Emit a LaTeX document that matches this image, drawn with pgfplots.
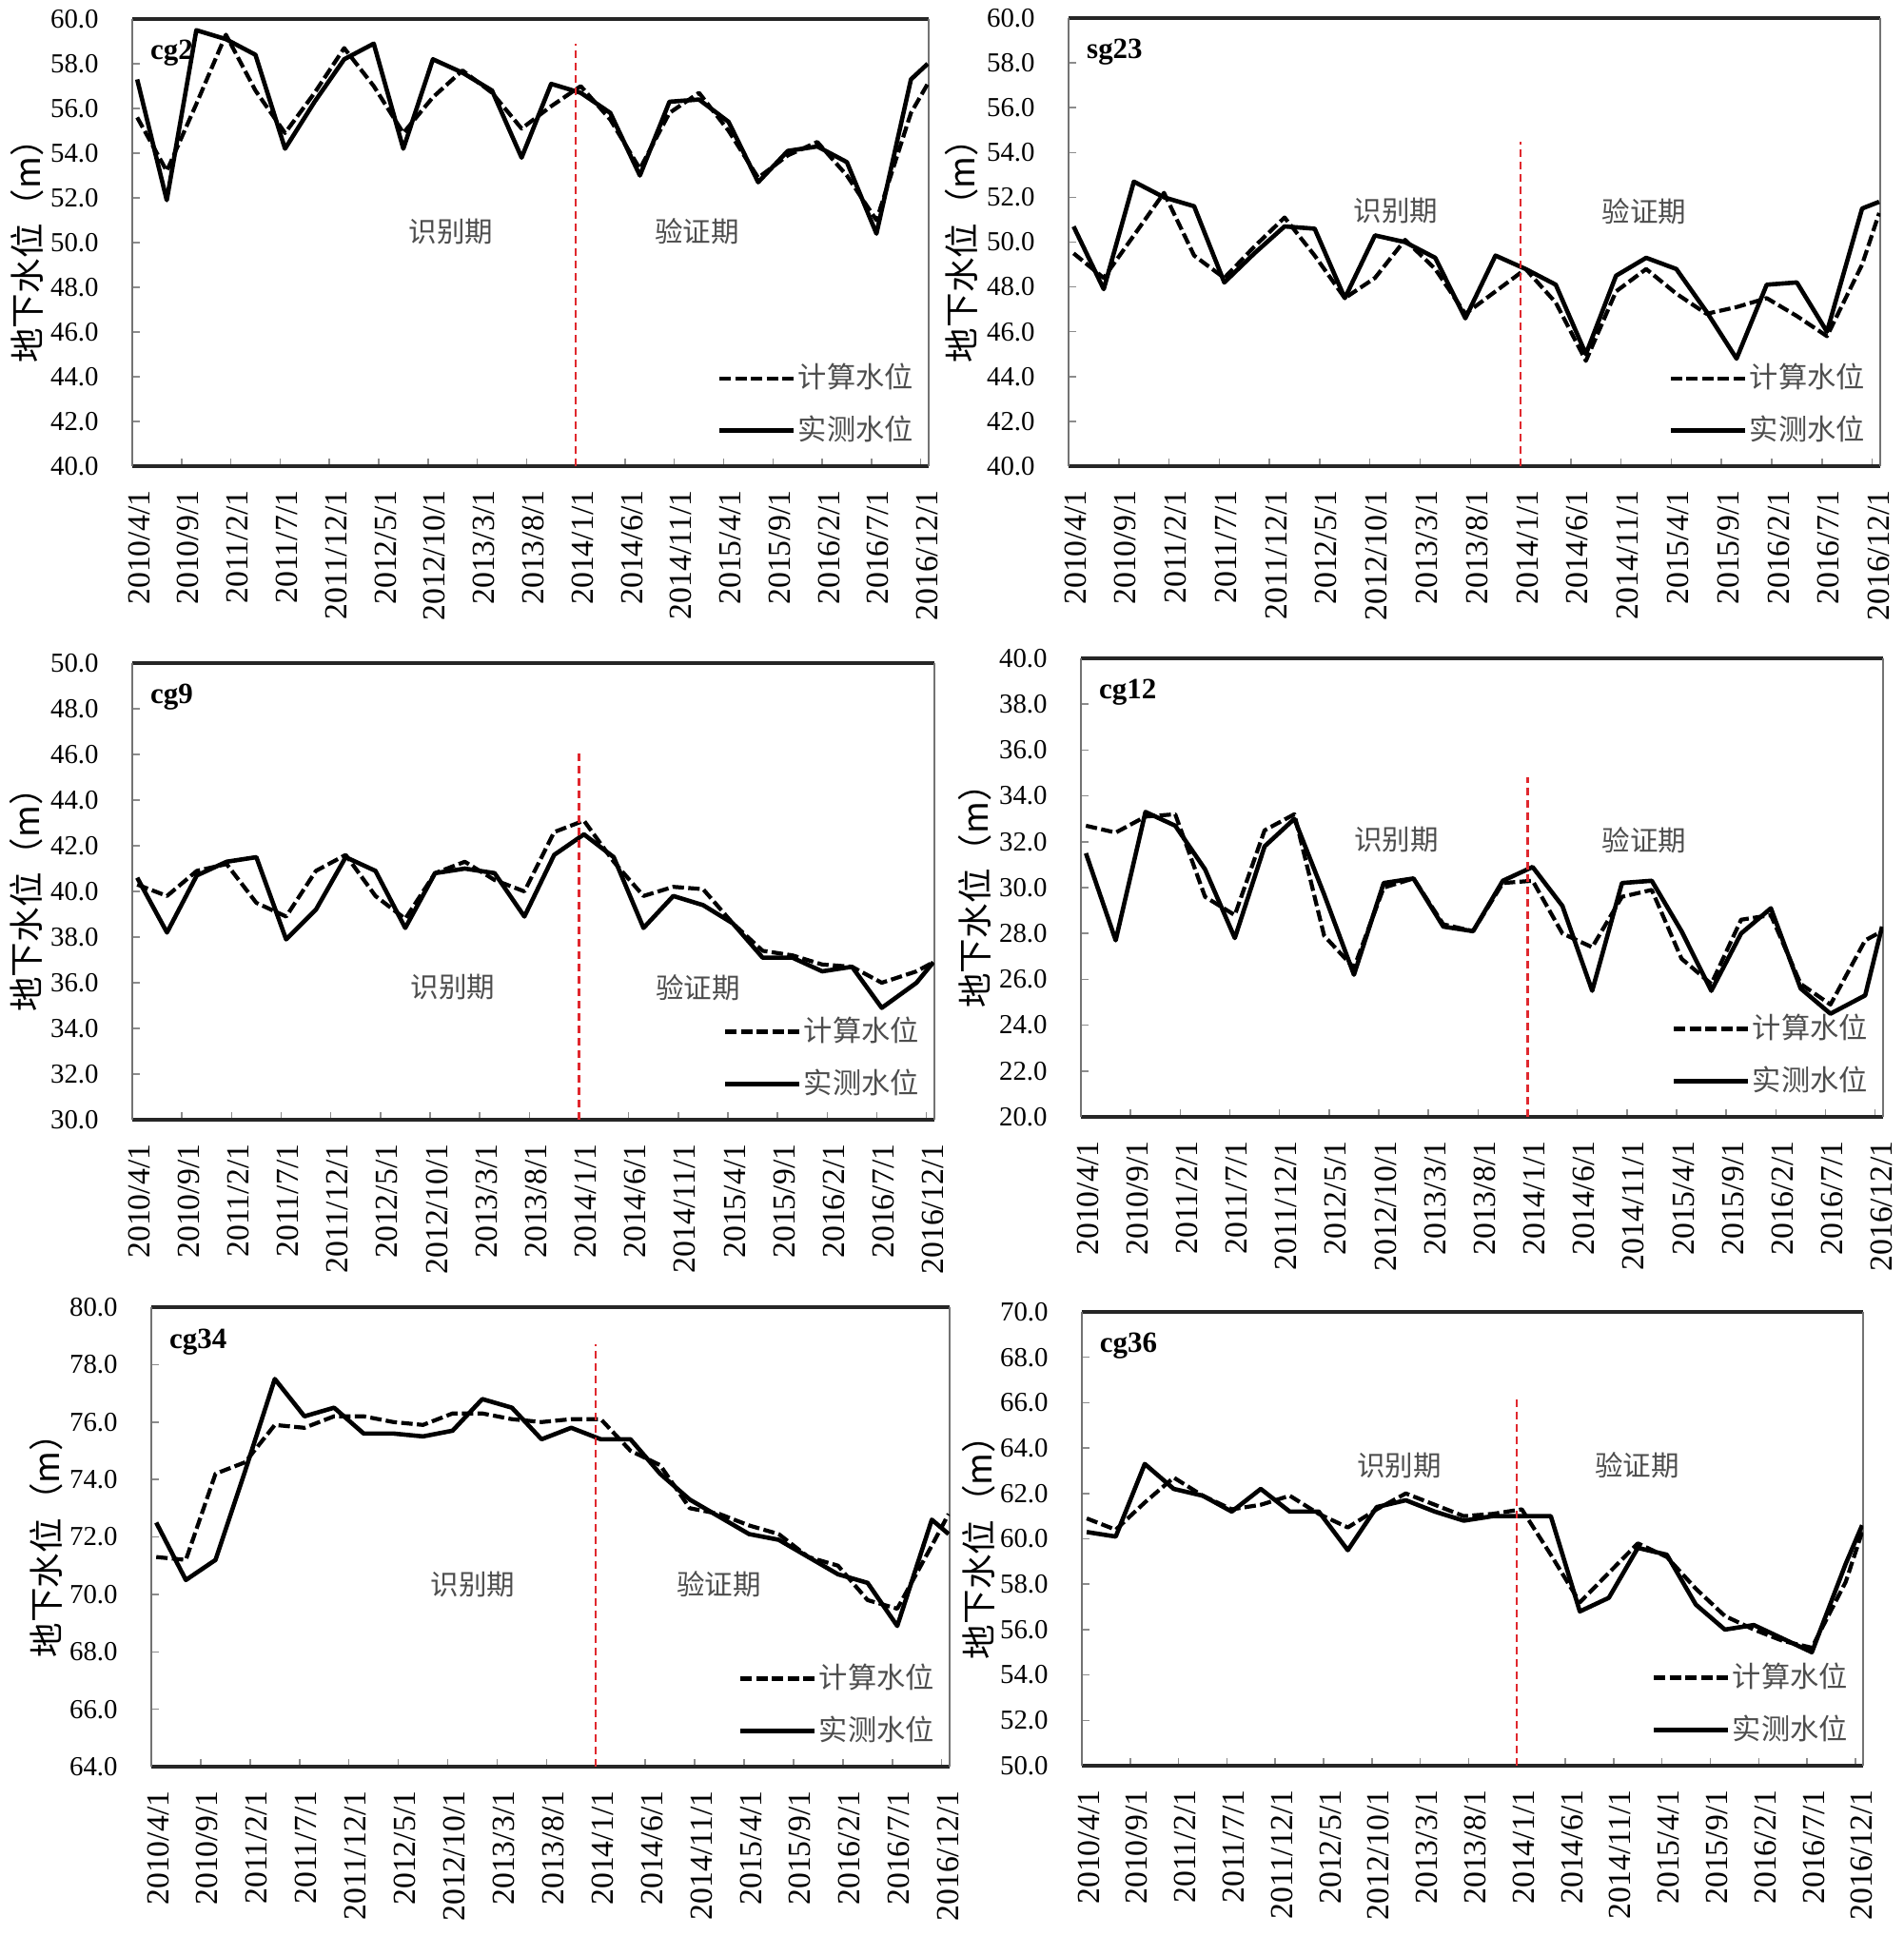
\documentclass[border=0pt]{standalone}
\usepackage{fontspec}
\setmainfont{Liberation Serif}
\newfontfamily\cjk{Noto Sans CJK SC}
\usepackage{pgfplots}
\usepackage{pgfplotstable}
\pgfplotsset{compat=1.18}

\definecolor{legtext}{HTML}{4D4D4D}
\definecolor{redline}{HTML}{E0282E}

% x: months after 2010/4/1; calc = 计算水位, obs = 实测水位
\pgfplotstableread{
x calc obs
0.5 55.6 57.3
3.5 53.2 51.9
6.5 56.2 59.5
9.5 59.3 59.1
12.5 56.8 58.4
15.5 54.9 54.2
18.5 56.7 56.3
21.5 58.7 58.2
24.5 57.0 58.9
27.5 54.9 54.2
30.5 56.5 58.2
33.5 57.7 57.6
36.5 56.7 56.8
39.5 55.1 53.8
42.5 56.1 57.1
45.5 57.0 56.7
48.5 55.5 55.8
51.5 53.3 53.0
54.5 55.8 56.3
57.5 56.7 56.4
60.5 55.0 55.4
63.5 52.9 52.7
66.5 53.9 54.1
69.5 54.5 54.3
72.5 53.0 53.6
75.5 51.0 50.4
79.0 55.8 57.3
80.7 57.1 58.0
}\cgtwo
\pgfplotstableread{
x calc obs
0.5 49.5 50.7
3.5 48.4 47.9
6.5 50.3 52.7
9.5 52.2 52.0
12.5 49.4 51.6
15.5 48.4 48.2
18.5 49.8 49.5
21.5 51.1 50.7
24.5 49.4 50.6
27.5 47.5 47.5
30.5 48.4 50.3
33.5 50.1 50.0
36.5 48.8 49.3
39.5 46.8 46.6
42.5 47.8 49.4
45.5 48.8 48.8
48.5 47.3 48.1
51.5 44.7 45.0
54.5 47.8 48.5
57.5 48.8 49.3
60.5 47.7 48.8
63.5 46.8 46.9
66.5 47.1 44.8
69.5 47.5 48.1
72.5 46.7 48.2
75.5 45.8 46.0
79.0 49.0 51.5
80.7 51.3 51.8
}\sgtwentythree
\pgfplotstableread{
x calc obs
0.5 40.3 40.6
3.5 39.8 38.2
6.5 40.9 40.7
9.5 41.2 41.3
12.5 39.5 41.5
15.5 38.9 37.9
18.5 40.9 39.2
21.5 41.6 41.5
24.5 39.8 40.9
27.5 38.8 38.4
30.5 40.8 40.8
33.5 41.3 41.0
36.5 40.5 40.8
39.5 40.0 38.9
42.5 42.6 41.6
45.5 43.1 42.5
48.5 41.3 41.5
51.5 39.8 38.4
54.5 40.2 39.8
57.5 40.1 39.4
60.5 38.6 38.6
63.5 37.4 37.1
66.5 37.2 37.1
69.5 36.8 36.5
72.5 36.7 36.7
75.5 36.0 34.9
79.0 36.5 36.0
80.7 36.9 36.9
}\cgnine
\pgfplotstableread{
x calc obs
0.5 32.7 31.5
3.5 32.4 27.7
6.5 33.1 33.3
9.5 33.2 32.7
12.5 29.6 30.8
15.5 28.8 27.8
18.5 32.5 31.8
21.5 33.2 33.0
24.5 27.9 29.7
27.5 26.5 26.2
30.5 30.0 30.2
33.5 30.4 30.4
36.5 28.4 28.3
39.5 28.1 28.1
42.5 30.2 30.3
45.5 30.3 30.9
48.5 28.0 29.2
51.5 27.4 25.5
54.5 29.6 30.2
57.5 29.9 30.3
60.5 26.9 28.1
63.5 25.8 25.5
66.5 28.6 28.0
69.5 28.8 29.1
72.5 25.8 25.6
75.5 24.9 24.5
79.0 27.7 25.3
80.7 28.1 28.3
}\cgtwelve
\pgfplotstableread{
x calc obs
0.5 71.3 72.5
3.5 71.2 70.5
6.5 74.2 71.2
9.5 74.6 74.3
12.5 75.9 77.5
15.5 75.8 76.2
18.5 76.2 76.5
21.5 76.2 75.6
24.5 76.0 75.6
27.5 75.9 75.5
30.5 76.3 75.7
33.5 76.3 76.8
36.5 76.1 76.5
39.5 76.0 75.4
42.5 76.1 75.8
45.5 76.1 75.4
48.5 75.0 75.4
51.5 74.5 74.2
54.5 73.0 73.3
57.5 72.8 72.7
60.5 72.4 72.1
63.5 72.1 71.9
66.5 71.3 71.3
69.5 71.0 70.7
72.5 69.8 70.4
75.5 69.5 68.9
79.0 71.7 72.6
80.7 72.8 72.1
}\cgthirtyfour
\pgfplotstableread{
x calc obs
0.5 60.9 60.3
3.5 60.4 60.1
6.5 61.6 63.3
9.5 62.7 62.2
12.5 61.9 61.9
15.5 61.3 61.2
18.5 61.5 62.2
21.5 61.9 61.2
24.5 61.1 61.2
27.5 60.5 59.5
30.5 61.3 61.4
33.5 62.0 61.7
36.5 61.5 61.2
39.5 61.0 60.8
42.5 61.1 61.0
45.5 61.3 61.0
48.5 59.3 61.0
51.5 57.2 56.8
54.5 58.5 57.4
57.5 59.8 59.6
60.5 59.2 59.3
63.5 57.8 57.1
66.5 56.6 56.0
69.5 56.0 56.2
72.5 55.5 55.6
75.5 55.2 55.0
79.0 58.1 58.9
80.7 60.3 60.6
}\cgthirtysix

\pgfplotsset{
  panel/.style={
    scale only axis,
    anchor=north west,
    xmin=0, xmax=80.8,
    xtick={0,5,...,80},
    xticklabels={2010/4/1,2010/9/1,2011/2/1,2011/7/1,2011/12/1,2012/5/1,2012/10/1,2013/3/1,2013/8/1,2014/1/1,2014/6/1,2014/11/1,2015/4/1,2015/9/1,2016/2/1,2016/7/1,2016/12/1},
    ytick distance=2,
    /pgf/number format/assume math mode=true,
    yticklabel style={/pgf/number format/fixed, /pgf/number format/fixed zerofill,
      /pgf/number format/precision=1, font=\fontsize{8.2}{9}\selectfont, xshift=-2.3mm},
    xticklabel style={font=\fontsize{9.6}{10}\selectfont, yshift=-2.5mm, xshift=0.7mm,
      rotate=90, anchor=east, inner sep=0pt},
    tick align=inside,
    tick pos=left,
    major tick length=0.8mm,
    tick style={draw=black!45, line width=0.15mm},
    separate axis lines,
    x axis line style={line width=0.35mm, draw=black!85},
    y axis line style={line width=0.18mm, draw=black!55},
    ylabel={\cjk 地下水位（m）},
    every axis y label/.style={at={(axis description cs:-0.132,0.5)}, rotate=90,
      anchor=center, font=\fontsize{10.4}{12}\selectfont},
    legend style={at={(rel axis cs:0.997,0.025)}, anchor=south east, draw=none, fill=none,
      font=\cjk\fontsize{8.6}{10}\selectfont, text=legtext, row sep=1.9mm,
      nodes={inner sep=0.25mm}, cells={anchor=west}},
    legend image code/.code={\draw[##1] (0mm,0mm) -- (7.8mm,0mm);},
  },
  calcline/.style={black, line width=0.42mm, dash pattern=on 1.2mm off 0.45mm, line join=round},
  obsline/.style={black, line width=0.46mm, line join=round},
  vline/.style={redline, line width=0.22mm, dash pattern=on 0.8mm off 0.5mm, forget plot},
}
\tikzset{
  period/.style={text=legtext, font=\cjk\fontsize{8.4}{10}\selectfont},
  station/.style={anchor=west, font=\bfseries\fontsize{8.8}{10}\selectfont},
}

\begin{document}
\begin{tikzpicture}
\path[use as bounding box] (0,0) rectangle (200mm,-203.5mm);

% cg2
\begin{axis}[panel, at={(13.9mm,-2.0mm)}, width=83.7mm, height=47.0mm, ymin=40, ymax=60]
\addplot[calcline] table[x=x, y=calc] {\cgtwo};
\addlegendentry{计算水位}
\addplot[obsline] table[x=x, y=obs] {\cgtwo};
\addlegendentry{实测水位}
\addplot[vline] coordinates {(45,40) (45,58.9)};
\node[station] at (rel axis cs:0.008,0.925) {cg2};
\node[period] at (rel axis cs:0.40,0.525) {识别期};
\node[period] at (rel axis cs:0.709,0.525) {验证期};
\end{axis}

% sg23
\begin{axis}[panel, at={(112.3mm,-1.9mm)}, width=85.3mm, height=47.1mm, ymin=40, ymax=60]
\addplot[calcline] table[x=x, y=calc] {\sgtwentythree};
\addlegendentry{计算水位}
\addplot[obsline] table[x=x, y=obs] {\sgtwentythree};
\addlegendentry{实测水位}
\addplot[vline] coordinates {(45,40) (45,54.5)};
\node[station] at (rel axis cs:0.008,0.925) {sg23};
\node[period] at (rel axis cs:0.403,0.569) {识别期};
\node[period] at (rel axis cs:0.709,0.569) {验证期};
\end{axis}

% cg9
\begin{axis}[panel, at={(13.9mm,-69.7mm)}, width=84.3mm, height=48.0mm, ymin=30, ymax=50]
\addplot[calcline] table[x=x, y=calc] {\cgnine};
\addlegendentry{计算水位}
\addplot[obsline] table[x=x, y=obs] {\cgnine};
\addlegendentry{实测水位}
\addplot[vline] coordinates {(45,30) (45,46.2)};
\node[station] at (rel axis cs:0.008,0.925) {cg9};
\node[period] at (rel axis cs:0.40,0.29) {识别期};
\node[period] at (rel axis cs:0.705,0.29) {验证期};
\end{axis}

% cg12
\begin{axis}[panel, at={(113.6mm,-69.2mm)}, width=84.3mm, height=48.2mm, ymin=20, ymax=40]
\addplot[calcline] table[x=x, y=calc] {\cgtwelve};
\addlegendentry{计算水位}
\addplot[obsline] table[x=x, y=obs] {\cgtwelve};
\addlegendentry{实测水位}
\addplot[vline] coordinates {(45,20) (45,34.8)};
\node[station] at (rel axis cs:0.008,0.925) {cg12};
\node[period] at (rel axis cs:0.393,0.604) {识别期};
\node[period] at (rel axis cs:0.702,0.604) {验证期};
\end{axis}

% cg34
\begin{axis}[panel, at={(15.9mm,-137.4mm)}, width=83.9mm, height=48.3mm, ymin=64, ymax=80]
\addplot[calcline] table[x=x, y=calc] {\cgthirtyfour};
\addlegendentry{计算水位}
\addplot[obsline] table[x=x, y=obs] {\cgthirtyfour};
\addlegendentry{实测水位}
\addplot[vline] coordinates {(45,64) (45,78.7)};
\node[station] at (rel axis cs:0.008,0.925) {cg34};
\node[period] at (rel axis cs:0.403,0.397) {识别期};
\node[period] at (rel axis cs:0.711,0.397) {验证期};
\end{axis}

% cg36
\begin{axis}[panel, at={(113.7mm,-137.9mm)}, width=82.1mm, height=47.7mm, ymin=50, ymax=70]
\addplot[calcline] table[x=x, y=calc] {\cgthirtysix};
\addlegendentry{计算水位}
\addplot[obsline] table[x=x, y=obs] {\cgthirtysix};
\addlegendentry{实测水位}
\addplot[vline] coordinates {(45,50) (45,66.3)};
\node[station] at (rel axis cs:0.008,0.925) {cg36};
\node[period] at (rel axis cs:0.406,0.662) {识别期};
\node[period] at (rel axis cs:0.711,0.662) {验证期};
\end{axis}
\end{tikzpicture}
\end{document}
